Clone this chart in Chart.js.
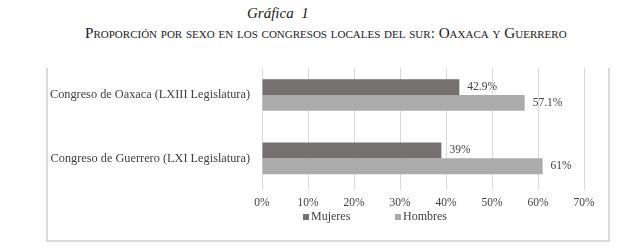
<!DOCTYPE html>
<html>
<head>
<meta charset="utf-8">
<script src="https://cdn.jsdelivr.net/npm/chart.js@4.4.1/dist/chart.umd.min.js"></script>
<style>
  html, body { margin: 0; padding: 0; background: #fff; }
  body { width: 624px; height: 250px; position: relative; overflow: hidden; font-family: 'Liberation Serif', 'Times New Roman', serif; }
  #title { position: absolute; left: 247px; top: 5px; white-space: nowrap; font-style: italic; font-size: 15px; color: #1a1a1a; }
  #subtitle { position: absolute; left: 85px; top: 24px; white-space: nowrap; font-variant: small-caps; font-size: 15.2px; color: #1a1a1a; }
  #box { position: absolute; left: 46px; top: 68px; width: 564px; height: 174px; box-sizing: border-box; border: 2px solid #d9d9d9; border-top: none; }
  #clip { position: absolute; left: 0; top: 68px; width: 624px; height: 182px; overflow: hidden; }
  #chart { position: absolute; left: 0; top: -16px; }
</style>
</head>
<body>
<div id="title">Gráfica&nbsp;&nbsp;1</div>
<div id="subtitle">Proporción por sexo en los congresos locales del sur: Oaxaca y Guerrero</div>
<div id="box"></div>
<div id="clip"><canvas id="chart" width="624" height="198"></canvas></div>
<script>
// Data
const categories = ['Congreso de Oaxaca (LXIII Legislatura)', 'Congreso de Guerrero (LXI Legislatura)'];
const seriesNames = ['Mujeres', 'Hombres'];
const mujeres = [42.9, 39];
const hombres = [57.1, 61];
const xTicks = [0, 10, 20, 30, 40, 50, 60, 70];

const colors = {
    mujeres: '#757171',
    hombres: '#ababab',
    grid: '#d9d9d9',
    text: '#404040'
};
const fontFamily = "'Liberation Serif', 'Times New Roman', serif";

// Value labels at the end of each bar
const valueLabels = {
    id: 'valueLabels',
    afterDatasetsDraw(chart) {
        const ctx = chart.ctx;
        ctx.save();
        ctx.font = '11.5px ' + fontFamily;
        ctx.fillStyle = colors.text;
        ctx.textAlign = 'left';
        ctx.textBaseline = 'middle';
        chart.data.datasets.forEach((ds, i) => {
            chart.getDatasetMeta(i).data.forEach((bar, j) => {
                ctx.fillText(ds.data[j] + '%', bar.x + 8, bar.y);
            });
        });
        ctx.restore();
    }
};

// Legend drawn below the axis labels
const bottomLegend = {
    id: 'bottomLegend',
    afterDraw(chart) {
        const ctx = chart.ctx;
        const starts = [303, 395];
        const y = chart.chartArea.bottom + 27;
        ctx.save();
        ctx.font = '12px ' + fontFamily;
        ctx.textAlign = 'left';
        ctx.textBaseline = 'middle';
        chart.data.datasets.forEach((ds, i) => {
            ctx.fillStyle = ds.backgroundColor;
            ctx.fillRect(starts[i], y - 3, 6, 6);
            ctx.fillStyle = colors.text;
            ctx.fillText(ds.label, starts[i] + 8, y);
        });
        ctx.restore();
    }
};

new Chart(document.getElementById('chart'), {
    type: 'bar',
    data: {
        labels: categories,
        datasets: [
            { label: seriesNames[0], data: mujeres, backgroundColor: colors.mujeres },
            { label: seriesNames[1], data: hombres, backgroundColor: colors.hombres }
        ]
    },
    options: {
        indexAxis: 'y',
        responsive: false,
        animation: false,
        devicePixelRatio: 1,
        categoryPercentage: 0.5,
        barPercentage: 1.0,
        layout: { padding: { left: 47, right: 40, top: 2, bottom: 33.2 } },
        plugins: {
            legend: { display: false },
            tooltip: { enabled: false }
        },
        scales: {
            x: {
                min: xTicks[0],
                max: xTicks[xTicks.length - 1],
                afterBuildTicks(axis) {
                    axis.ticks = xTicks.map(v => ({ value: v }));
                },
                grid: { color: colors.grid, drawTicks: false },
                border: { display: false },
                ticks: {
                    padding: 6.5,
                    color: colors.text,
                    font: { family: fontFamily, size: 11.5 },
                    callback: v => v + '%'
                }
            },
            y: {
                grid: { display: false },
                border: { display: false },
                afterFit(axis) { axis.width = 215; },
                ticks: {
                    padding: 4,
                    color: colors.text,
                    font: { family: fontFamily, size: 12.3 }
                }
            }
        }
    },
    plugins: [valueLabels, bottomLegend]
});
</script>
</body>
</html>
